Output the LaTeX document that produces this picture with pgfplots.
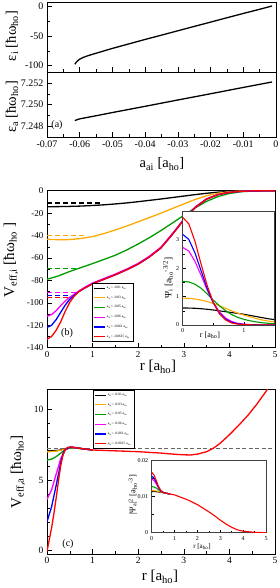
\documentclass[border=0pt]{standalone}
\usepackage{fontspec}
\setmainfont{Liberation Serif}
\usepackage{pgfplots}
\pgfplotsset{compat=1.18}
\definecolor{cor}{RGB}{255,170,0}
\definecolor{cgr}{RGB}{0,155,0}
\definecolor{cma}{RGB}{255,0,255}
\definecolor{cbl}{RGB}{0,0,255}
\definecolor{cre}{RGB}{255,0,0}
\pgfplotsset{
 base/.style={scale only axis, anchor=south west, tick align=inside, xtick pos=left, ytick pos=left,
   axis line style={line width=0.6pt}, every tick/.style={black, line width=0.5pt},
   major tick length=5pt, minor tick length=3pt,
   /pgf/number format/assume math mode=true, scaled x ticks=false, scaled y ticks=false,
   tick label style={font=\fontsize{9.5}{10}\selectfont}, axis background/.style={fill=white}},
 inset/.style={base, major tick length=3pt, minor tick length=1.8pt, axis line style={line width=0.5pt, black!75},
   tick label style={font=\fontsize{6}{7}\selectfont}},
 leg/.style={legend style={at={#1}, anchor=north west, font=\fontsize{3.5}{4}\selectfont, draw=black, line width=0.4pt,
   fill=white, row sep=3.9pt, inner sep=2pt, nodes={inner sep=1pt}, cells={anchor=west}},
   legend image code/.code={\draw[##1, line width=1.1pt, solid] (0pt,0pt) -- (11pt,0pt);}},
}
\newcommand{\ent}[1]{a\textsubscript{ai}= #1 a\textsubscript{ho}\hspace{9pt}}
\begin{document}
\begin{tikzpicture}
\useasboundingbox (0,0) rectangle (279pt,588pt);
% ---------- (a) top
\begin{axis}[base, at={(47pt,516pt)}, width=229pt, height=70pt,
  xmin=-0.07, xmax=0, ymin=-110.5, ymax=6.7,
  xtick={-0.07,-0.06,-0.05,-0.04,-0.03,-0.02,-0.01,0}, xticklabels={}, minor x tick num=1,
  ytick={-100,-50,0}, yticklabels={-100,-50,0}, minor y tick num=1, tick label style={font=\fontsize{10}{11}\selectfont}]
\addplot[black, line width=1.3pt] coordinates {(-0.0615,-97.5) (-0.0612,-95.3) (-0.061,-93.8) (-0.0605,-91.2) (-0.060,-89.0) (-0.059,-86.3) (-0.058,-84.2) (-0.056,-80.7) (-0.054,-77.5) (-0.052,-74.2) (-0.050,-71.0) (-0.045,-63.5) (-0.040,-56.0) (-0.035,-48.8) (-0.030,-41.5) (-0.025,-34.2) (-0.020,-27.0) (-0.015,-19.7) (-0.010,-12.5) (-0.005,-5.5) (-0.0012,0.0)};
\end{axis}
% ---------- (a) bottom
\begin{axis}[base, at={(47pt,451pt)}, width=229pt, height=65pt,
  xmin=-0.07, xmax=0, ymin=7.24697, ymax=7.25303,
  xtick={-0.07,-0.06,-0.05,-0.04,-0.03,-0.02,-0.01,0},
  xticklabels={-0.07,-0.06,-0.05,-0.04,-0.03,-0.02,-0.01,0}, minor x tick num=1,
  ytick={7.248,7.25,7.252}, yticklabels={7.248,7.250,7.252}, minor y tick num=1, tick label style={font=\fontsize{10}{11}\selectfont}]
\addplot[black, line width=1.3pt] coordinates {(-0.0615,7.2485) (-0.061,7.24856) (-0.060,7.24866) (-0.055,7.24895) (-0.050,7.24925) (-0.040,7.24983) (-0.030,7.25042) (-0.020,7.25100) (-0.010,7.25159) (-0.0012,7.2521)};
\end{axis}
% ---------- (b)
\begin{axis}[base, leg={(0.196,0.412)}, at={(47pt,240.3pt)}, width=228pt, height=157pt,
  xmin=0, xmax=5, ymin=-140, ymax=0, xtick={0,1,2,3,4,5}, minor x tick num=1,
  ytick={-140,-120,-100,-80,-60,-40,-20,0}, yticklabels={-140,-120,-100,-80,-60,-40,-20,0}, minor y tick num=1,
  tick label style={font=\fontsize{9}{10}\selectfont}]
\addplot[black, line width=1.3pt] coordinates {(0,-14.3) (0.25,-14.2) (0.5,-14.0) (0.75,-13.7) (1.0,-13.2) (1.25,-12.6) (1.5,-11.8) (1.75,-10.9) (2.0,-9.8) (2.25,-8.6) (2.5,-7.4) (2.75,-6.1) (3.0,-4.8) (3.25,-3.5) (3.5,-2.3) (3.75,-1.3) (4.0,-0.7) (4.25,-0.3) (4.5,-0.1) (5.0,0)};
\addlegendentry{\ent{-0.01}}
\addplot[cor, line width=1.3pt] coordinates {(0,-43.3) (0.25,-43.7) (0.5,-43.6) (0.75,-42.6) (1.0,-40.9) (1.25,-38.2) (1.5,-35.0) (1.75,-31.5) (2.0,-27.7) (2.25,-23.9) (2.5,-20.0) (2.75,-15.9) (3.0,-11.8) (3.25,-7.8) (3.5,-4.5) (3.75,-2.2) (4.0,-0.9) (4.25,-0.3) (4.5,-0.1) (5.0,0)};
\addlegendentry{\ent{-0.03}}
\addplot[cgr, line width=1.3pt] coordinates {(0,-79.0) (0.25,-76.0) (0.5,-72.0) (0.75,-68.5) (1.0,-65.0) (1.25,-61.3) (1.5,-57.5) (1.75,-52.8) (2.0,-47.5) (2.25,-41.8) (2.5,-35.5) (2.75,-28.8) (3.0,-22.0) (3.25,-15.3) (3.5,-9.5) (3.75,-5.2) (4.0,-2.5) (4.25,-1.0) (4.5,-0.3) (5.0,0)};
\addlegendentry{\ent{-0.05}}
\addplot[cma, line width=1.3pt] coordinates {(0,-112) (0.1,-110.5) (0.2,-107) (0.3,-102.5) (0.4,-98.3) (0.5,-95) (0.6,-92.3) (0.7,-89.4) (0.8,-86.8) (0.9,-84.5) (1.0,-82.3) (1.25,-78.3) (1.5,-74.3) (1.75,-69.8) (2.0,-64.8) (2.25,-58.3) (2.5,-50.3) (2.75,-38.3) (3.0,-25.3) (3.25,-14.5) (3.5,-7.2) (3.75,-3.4) (4.0,-1.5) (4.25,-0.6) (4.5,-0.2) (5.0,0)};
\addlegendentry{\ent{-0.06}}
\addplot[cbl, line width=1.3pt] coordinates {(0,-122) (0.1,-120) (0.2,-115) (0.3,-108.5) (0.4,-102) (0.5,-96.8) (0.6,-93) (0.7,-90.0) (0.8,-87.5) (0.9,-85.2) (1.0,-83.0) (1.25,-79.0) (1.5,-75.0) (1.75,-70.5) (2.0,-65.5) (2.25,-59.0) (2.5,-51.0) (2.75,-39.0) (3.0,-26.0) (3.25,-15.0) (3.5,-7.5) (3.75,-3.5) (4.0,-1.5) (4.25,-0.6) (4.5,-0.2) (5.0,0)};
\addlegendentry{\ent{-0.061}}
\addplot[cre, line width=1.3pt] coordinates {(0,-132.5) (0.1,-130) (0.2,-124.5) (0.3,-117) (0.4,-107.5) (0.5,-99.5) (0.6,-94) (0.7,-90.0) (0.8,-87.5) (0.9,-85.2) (1.0,-83.0) (1.25,-79.0) (1.5,-75.0) (1.75,-70.5) (2.0,-65.5) (2.25,-59.0) (2.5,-51.0) (2.75,-39.0) (3.0,-26.0) (3.25,-15.0) (3.5,-7.5) (3.75,-3.5) (4.0,-1.5) (4.25,-0.6) (4.5,-0.2) (5.0,0)};
\addlegendentry{\ent{-0.0615}}
\addplot[black, line width=1.1pt, dash pattern=on 5pt off 3pt, forget plot] coordinates {(0,-11.0) (1.16,-11.0)};
\addplot[cor, line width=1.1pt, dash pattern=on 5pt off 3pt, forget plot] coordinates {(0,-39.8) (0.87,-39.8)};
\addplot[cgr, line width=1.1pt, dash pattern=on 5pt off 3pt, forget plot] coordinates {(0,-69.3) (0.68,-69.3)};
\addplot[cma, line width=1.1pt, dash pattern=on 5pt off 3pt, forget plot] coordinates {(0,-90.7) (0.65,-90.7)};
\addplot[cbl, line width=1.1pt, dash pattern=on 5pt off 3pt, forget plot] coordinates {(0,-93.1) (0.5,-93.1)};
\addplot[cre, line width=1.1pt, dash pattern=on 5pt off 3pt, forget plot] coordinates {(0,-95.2) (0.5,-95.2)};
\end{axis}
% ---------- (b) inset
\begin{axis}[inset, at={(182.7pt,263pt)}, width=91.6pt, height=113.3pt,
  xmin=0, xmax=1.5, ymin=0, ymax=4, xtick={0,1}, minor x tick num=1, ytick={0,1,2,3}, minor y tick num=1]
\addplot[black, line width=1.1pt] coordinates {(0,0.60) (0.1,0.598) (0.2,0.59) (0.3,0.575) (0.4,0.555) (0.5,0.53) (0.6,0.50) (0.7,0.47) (0.8,0.44) (0.9,0.41) (1.0,0.38) (1.1,0.34) (1.2,0.30) (1.3,0.26) (1.4,0.22) (1.5,0.19)};
\addplot[cor, line width=1.1pt] coordinates {(0,0.95) (0.1,0.94) (0.2,0.92) (0.3,0.88) (0.4,0.83) (0.5,0.76) (0.6,0.68) (0.7,0.59) (0.8,0.50) (0.9,0.42) (1.0,0.35) (1.1,0.29) (1.2,0.23) (1.3,0.18) (1.4,0.14) (1.5,0.11)};
\addplot[cgr, line width=1.1pt] coordinates {(0,1.54) (0.1,1.52) (0.2,1.44) (0.3,1.30) (0.4,1.10) (0.5,0.88) (0.6,0.68) (0.7,0.51) (0.8,0.37) (0.9,0.27) (1.0,0.20) (1.1,0.15) (1.2,0.11) (1.3,0.08) (1.4,0.06) (1.5,0.045)};
\addplot[cma, line width=1.1pt] coordinates {(0,2.74) (0.1,2.61) (0.2,2.25) (0.3,1.76) (0.4,1.24) (0.5,0.80) (0.6,0.47) (0.7,0.25) (0.8,0.125) (0.9,0.06) (1.0,0.03) (1.1,0.016) (1.2,0.009) (1.3,0.005) (1.4,0.003) (1.5,0.002)};
\addplot[cbl, line width=1.1pt] coordinates {(0,3.20) (0.1,3.02) (0.2,2.55) (0.3,1.92) (0.4,1.29) (0.5,0.78) (0.6,0.42) (0.7,0.21) (0.8,0.095) (0.9,0.045) (1.0,0.022) (1.1,0.012) (1.2,0.007) (1.3,0.004) (1.4,0.002) (1.5,0.001)};
\addplot[cre, line width=1.1pt] coordinates {(0,3.80) (0.1,3.57) (0.2,2.96) (0.3,2.16) (0.4,1.40) (0.5,0.80) (0.6,0.40) (0.7,0.18) (0.8,0.07) (0.9,0.03) (1.0,0.015) (1.1,0.008) (1.2,0.005) (1.3,0.003) (1.4,0.002) (1.5,0.001)};
\end{axis}
% ---------- (c)
\begin{axis}[base, leg={(0.2,0.996)}, at={(47pt,34pt)}, width=228pt, height=164.7pt,
  xmin=0, xmax=5, ymin=-0.23, ymax=11.41, xtick={0,1,2,3,4,5}, minor x tick num=1,
  ytick={0,5,10}, minor y tick num=4]
\addplot[black!60, line width=1.1pt, dash pattern=on 4pt off 2.5pt, forget plot] coordinates {(0,7.25) (5,7.25)};
\addplot[black, line width=1.3pt] coordinates {(0,7.07) (0.1,7.07) (0.2,7.08) (0.3,7.12) (0.4,7.2) (0.5,7.26) (0.6,7.27) (0.8,7.2) (1.0,7.12)};
\addlegendentry{\ent{-0.01}}
\addplot[cor, line width=1.3pt] coordinates {(0,7.0) (0.1,7.01) (0.2,7.04) (0.3,7.1) (0.4,7.19) (0.5,7.26) (0.6,7.27) (0.8,7.2) (1.0,7.12)};
\addlegendentry{\ent{-0.03}}
\addplot[cgr, line width=1.3pt] coordinates {(0,6.41) (0.1,6.47) (0.2,6.65) (0.3,6.9) (0.4,7.13) (0.5,7.26) (0.6,7.28) (0.8,7.2) (1.0,7.12)};
\addlegendentry{\ent{-0.05}}
\addplot[cma, line width=1.3pt] coordinates {(0,3.63) (0.1,4.3) (0.2,5.4) (0.3,6.5) (0.4,7.15) (0.5,7.31) (0.6,7.3) (0.8,7.2) (1.0,7.12)};
\addlegendentry{\ent{-0.06}}
\addplot[cbl, line width=1.3pt] coordinates {(0,2.05) (0.1,3.1) (0.2,4.6) (0.3,6.2) (0.35,6.85) (0.4,7.18) (0.5,7.32) (0.6,7.3) (0.8,7.2) (1.0,7.12)};
\addlegendentry{\ent{-0.061}}
\addplot[cre, line width=1.3pt] coordinates {(0,-0.05) (0.05,0.8) (0.1,1.6) (0.15,2.6) (0.2,3.7) (0.25,4.9) (0.3,6.0) (0.35,6.75) (0.4,7.15) (0.45,7.3) (0.5,7.33) (0.55,7.33) (0.6,7.3) (0.8,7.2) (1.0,7.12) (1.5,7.06) (2.0,7.0) (2.5,6.9) (2.8,6.82) (3.0,6.78) (3.15,6.77) (3.3,6.83) (3.5,7.0) (3.65,7.25) (3.8,7.6) (4.0,8.2) (4.2,8.85) (4.4,9.55) (4.6,10.35) (4.8,11.25) (5.0,12.2)};
\addlegendentry{\ent{-0.0615}}
\end{axis}
% ---------- (c) inset
\begin{axis}[inset, at={(151.7pt,55.3pt)}, width=114.3pt, height=72pt,
  xmin=0, xmax=5, ymin=0, ymax=0.02, xtick={0,1,2,3,4,5}, minor x tick num=1,
  ytick={0,0.01,0.02}, yticklabels={0,0.01,0.02}, minor y tick num=1]
\addplot[black, line width=1.1pt] coordinates {(0,0.0114) (0.2,0.0114) (0.4,0.0112) (0.6,0.0110) (0.8,0.01075)};
\addplot[cor, line width=1.1pt] coordinates {(0,0.0117) (0.2,0.0116) (0.4,0.0113) (0.6,0.0110) (0.8,0.01075)};
\addplot[cgr, line width=1.1pt] coordinates {(0,0.0128) (0.1,0.0127) (0.2,0.0124) (0.3,0.0119) (0.4,0.0115) (0.5,0.0112) (0.6,0.0110) (0.8,0.01075)};
\addplot[cma, line width=1.1pt] coordinates {(0,0.0149) (0.1,0.0145) (0.2,0.0136) (0.3,0.0124) (0.4,0.0116) (0.5,0.0112) (0.6,0.0110) (0.8,0.01075)};
\addplot[cbl, line width=1.1pt] coordinates {(0,0.0157) (0.1,0.0152) (0.2,0.0140) (0.3,0.0126) (0.4,0.0116) (0.5,0.0112) (0.6,0.0110) (0.8,0.01075)};
\addplot[cre, line width=1.1pt] coordinates {(0,0.0168) (0.1,0.0160) (0.2,0.0145) (0.3,0.0128) (0.4,0.0117) (0.5,0.0112) (0.6,0.0110) (0.8,0.01075) (1.0,0.0105) (1.25,0.0099) (1.5,0.0093) (1.75,0.0086) (2.0,0.0078) (2.25,0.0068) (2.5,0.0058) (2.75,0.0047) (3.0,0.0035) (3.25,0.0024) (3.5,0.0015) (3.75,0.0008) (4.0,0.0004) (4.5,0.0001) (5.0,0.0)};
\end{axis}
% ---------- labels
\node[rotate=90] at (12pt,552pt) {\fontsize{14.5}{16}\selectfont ε\textsubscript{i} [ħω\textsubscript{ho}]};
\node[rotate=90] at (12pt,481pt) {\fontsize{14.5}{16}\selectfont ε\textsubscript{a} [ħω\textsubscript{ho}]};
\node at (162pt,424pt) {\fontsize{14.5}{16}\selectfont a\textsubscript{ai} [a\textsubscript{ho}]};
\node at (57pt,463pt) {\fontsize{10}{11}\selectfont (a)};
\node[rotate=90] at (11pt,328pt) {\fontsize{15}{17}\selectfont V\textsubscript{eff,i} [ħω\textsubscript{ho} ]};
\node at (158pt,221pt) {\fontsize{15}{17}\selectfont r [a\textsubscript{ho}]};
\node at (67pt,255pt) {\fontsize{10}{11}\selectfont (b)};
\node[rotate=90] at (168pt,310pt) {\fontsize{9.5}{11}\selectfont Ψ\textsubscript{i} [a\textsubscript{ho}\textsuperscript{-3/2}]};
\node at (210pt,253pt) {\fontsize{8}{9}\selectfont r [a\textsubscript{ho}]};
\node[rotate=90] at (18pt,116pt) {\fontsize{15}{17}\selectfont V\textsubscript{eff,a} [ħω\textsubscript{ho}]};
\node at (160pt,11pt) {\fontsize{15}{17}\selectfont r [a\textsubscript{ho}]};
\node at (68pt,44pt) {\fontsize{10}{11}\selectfont (c)};
\node[rotate=90] at (133pt,93pt) {\fontsize{8.5}{10}\selectfont |Ψ\textsubscript{a}|\textsuperscript{2} [a\textsubscript{ho}\textsuperscript{-3}]};
\node at (202pt,41pt) {\fontsize{7}{8}\selectfont r [a\textsubscript{ho}]};
\end{tikzpicture}
\end{document}
